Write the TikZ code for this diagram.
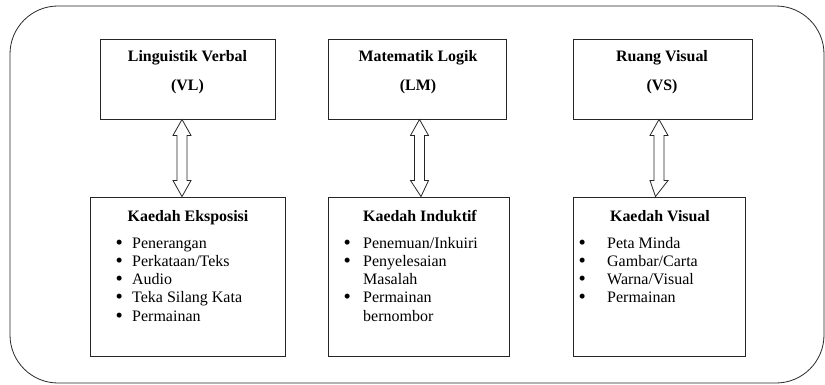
\documentclass[tikz,border=0pt]{standalone}
\usepackage{fontspec}
\setmainfont{Liberation Serif}
\usetikzlibrary{calc}
\newcommand\twoway[3]{%
  \draw[arr] let \p1=([xshift=#3]#1.south), \p2=([xshift=#3]#2.north) in
    (\p1) -- (\x1+9pt,\y1-16pt) -- (\x1+5pt,\y1-16pt) -- (\x1+5pt,\y2+16pt)
    -- (\x1+9pt,\y2+16pt) -- (\p2) -- (\x1-9pt,\y2+16pt) -- (\x1-5pt,\y2+16pt)
    -- (\x1-5pt,\y1-16pt) -- (\x1-9pt,\y1-16pt) -- cycle;}
\newcommand\bul{\raisebox{-0.9pt}{\scalebox{1.3}{\textbullet}}}
\begin{document}
\begin{tikzpicture}[x=1pt,y=1pt,
  box/.style={draw=black!85, line width=0.9pt, inner sep=0pt},
  arr/.style={draw=black!85, line width=0.8pt, fill=white},
  ttl/.style={font=\fontsize{15.9}{18.25}\selectfont\bfseries, inner sep=0pt},
  lst/.style={font=\fontsize{16}{18.25}\selectfont, inner sep=0pt, anchor=north west}]
\useasboundingbox (0,0) rectangle (825,-385);
\draw[line width=0.8pt, draw=black!85, rounded corners=48pt] (10,-6) rectangle (824,-383);
% top boxes
\node[box, minimum width=175, minimum height=80] (t1) at (187.5,-79) {};
\node[box, minimum width=178, minimum height=80] (t2) at (417,-79) {};
\node[box, minimum width=179, minimum height=80] (t3) at (662.5,-79) {};
% bottom boxes
\node[box, minimum width=195, minimum height=159] (b1) at (187.5,-276.5) {};
\node[box, minimum width=181, minimum height=159] (b2) at (418.5,-276.5) {};
\node[box, minimum width=172, minimum height=159] (b3) at (659,-276.5) {};
% top texts
\node[ttl, anchor=base] (t1a) at (187.5,-62) {Linguistik Verbal};
\node[ttl, anchor=base] (t1b) at (187.5,-91) {(VL)};
\node[ttl, anchor=base] (t2a) at (418,-62) {Matematik Logik};
\node[ttl, anchor=base] (t2b) at (418,-91) {(LM)};
\node[ttl, anchor=base] (t3a) at (662,-62) {Ruang Visual};
\node[ttl, anchor=base] (t3b) at (662,-91) {(VS)};
% bottom titles
\node[ttl, anchor=base] (b1a) at (188,-221) {Kaedah Eksposisi};
\node[ttl, anchor=base] (b2a) at (420,-221) {Kaedah Induktif};
\node[ttl, anchor=base] (b3a) at (660,-221) {Kaedah Visual};
% lists
\node[lst] (l1) at (115.4,-235.2) {\begin{tabular}{@{}l@{\hspace{9.3pt}}l@{}}
\bul & Penerangan\\
\bul & Perkataan/Teks\\
\bul & Audio\\
\bul & Teka Silang Kata\\
\bul & Permainan
\end{tabular}};
\node[lst] (l2) at (343.4,-235.2) {\begin{tabular}{@{}l@{\hspace{12.3pt}}l@{}}
\bul & Penemuan/Inkuiri\\
\bul & Penyelesaian\\
 & Masalah\\
\bul & Permainan\\
 & bernombor
\end{tabular}};
\node[lst] (l3) at (578.4,-235.2) {\begin{tabular}{@{}l@{\hspace{21.3pt}}l@{}}
\bul & Peta Minda\\
\bul & Gambar/Carta\\
\bul & Warna/Visual\\
\bul & Permainan
\end{tabular}};
% arrows
\twoway{t1}{b1}{-5.5}
\twoway{t2}{b2}{2.5}
\twoway{t3}{b3}{-3.5}
\end{tikzpicture}
\end{document}
